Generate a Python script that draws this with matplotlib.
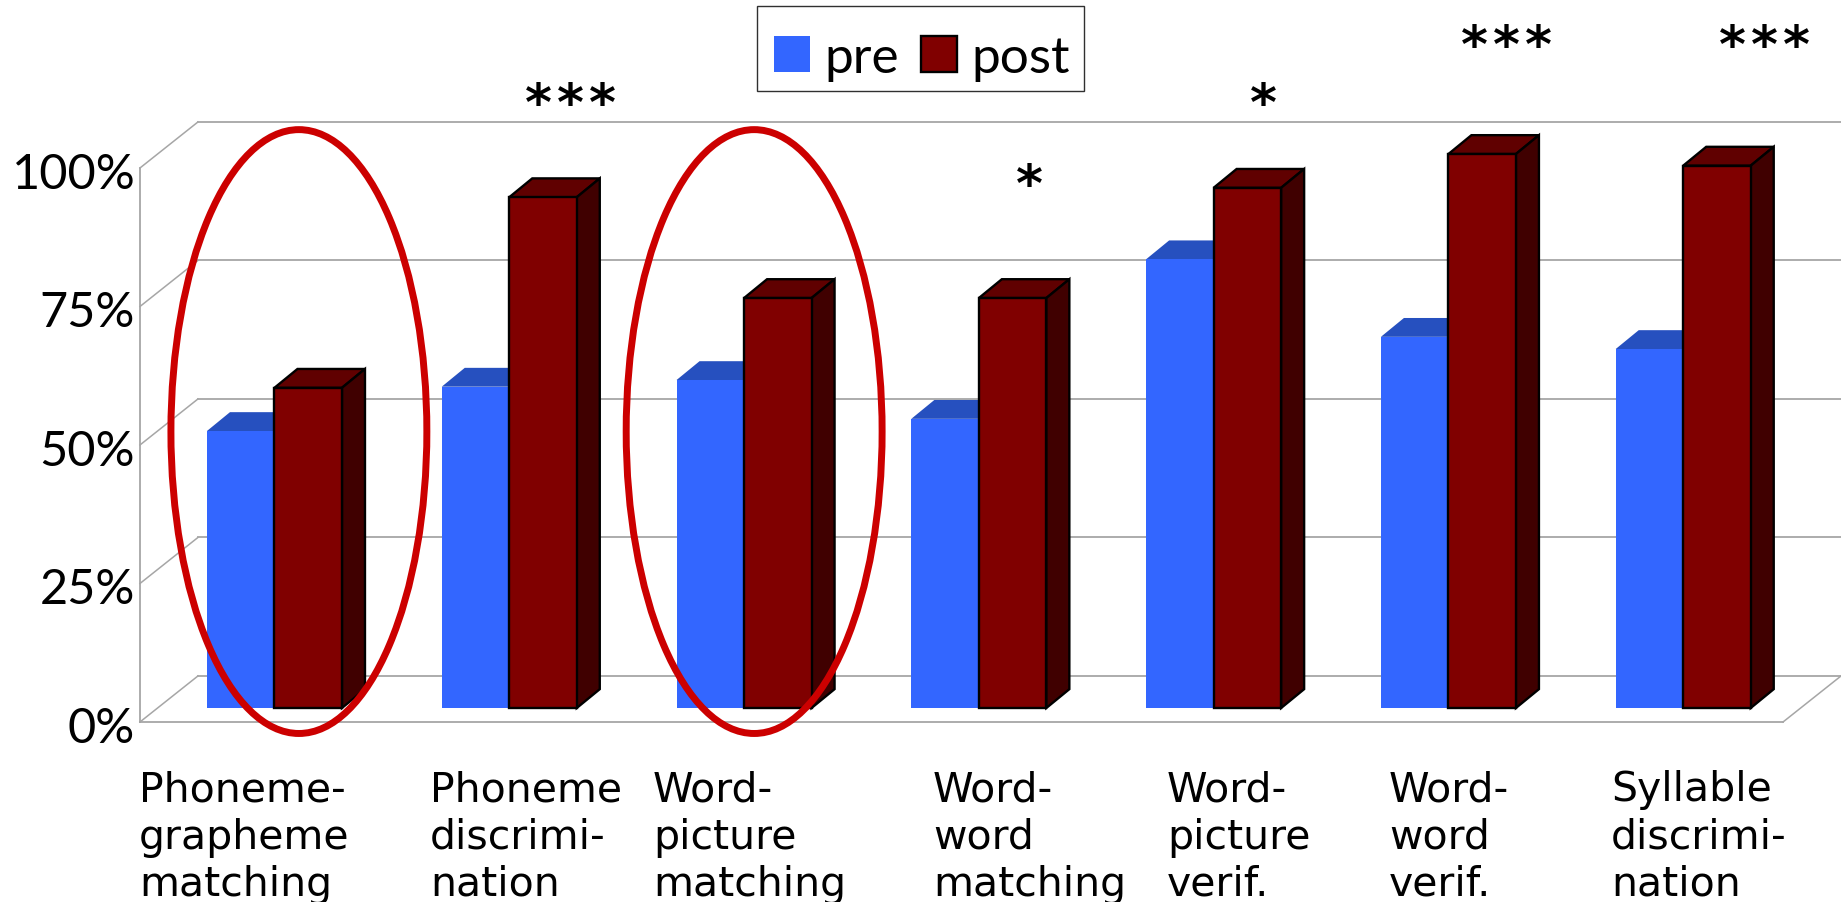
import matplotlib
matplotlib.use("Agg")
import matplotlib.pyplot as plt
from matplotlib.patches import Ellipse, Rectangle

# --- Data ---
categories = [
    "Phoneme-\ngrapheme\nmatching",
    "Phoneme\ndiscrimi-\nnation",
    "Word-\npicture\nmatching",
    "Word-\nword\nmatching",
    "Word-\npicture\nverif.",
    "Word-\nword\nverif.",
    "Syllable\ndiscrimi-\nnation",
]
pre = [50, 58, 59.2, 52.2, 81, 67, 64.8]
post = [57.8, 92.2, 74, 74, 93.9, 100, 97.9]
y_ticks = [0, 25, 50, 75, 100]
sig_marks = ["", "***", "", "*", "*", "***", "***"]
sig_heights = [0, 108.8, 0, 94.3, 108.8, 119.3, 119.3]
sig_shift = [0, 0.26, 0, 0.217, 0.21, 0.245, 0.345]
circled = [0, 2]
circle_shift = [0.104, 0.043]

# --- Config ---
BLUE, BLUE_TOP = "#3366FF", "#2650BF"
RED, RED_TOP, RED_SIDE = "#800000", "#600000", "#400000"
GRID = "#A6A6A6"
W = 0.2875        # bar width
DX, DY = 0.098, 3.4   # bar depth
WALL_DX, WALL_DY = 0.247, 8.31  # floor depth
FLOOR = -2.53
LEFT, RIGHT = -0.573, 6.425

fig = plt.figure(figsize=(18.41, 9.03), dpi=100)
ax = fig.add_axes([0, 0, 1, 1])
ax.set_xlim(-1.169, 6.672)
ax.set_ylim(-35.02, 127.98)
ax.axis("off")

# --- Walls and grid ---
for t in y_ticks:
    ax.plot([LEFT, LEFT + WALL_DX], [FLOOR + t, FLOOR + t + WALL_DY], color=GRID, lw=1.1, zorder=1)
    ax.plot([LEFT + WALL_DX, RIGHT + WALL_DX], [FLOOR + t + WALL_DY] * 2, color=GRID, lw=1.3, zorder=1)
    ax.text(LEFT - 0.02, FLOOR + t - 1.0, f"{t}%", ha="right", va="center",
            fontsize=35, family="Lato", color="black")
ax.plot([LEFT, LEFT], [FLOOR, FLOOR + 100], color=GRID, lw=1.3, zorder=1)
ax.plot([LEFT, RIGHT], [FLOOR, FLOOR], color=GRID, lw=1.3, zorder=1)
ax.plot([RIGHT, RIGHT + WALL_DX], [FLOOR, FLOOR + WALL_DY], color=GRID, lw=1.1, zorder=1)

# --- Bars ---
for i, (a, b) in enumerate(zip(pre, post)):
    x = i - W
    ax.fill([x, x + DX, x + W + DX, x + W], [a, a + DY, a + DY, a], color=BLUE_TOP, lw=0, zorder=2)
    x = i
    ax.fill([x, x + DX, x + W + DX, x + W], [b, b + DY, b + DY, b],
            facecolor=RED_TOP, edgecolor="black", lw=1.7, zorder=4)
    ax.fill([x + W, x + W + DX, x + W + DX, x + W], [0, DY, b + DY, b],
            facecolor=RED_SIDE, edgecolor="black", lw=1.7, zorder=4)

xs = range(len(categories))
ax.bar([i - W for i in xs], pre, W, align="edge", color=BLUE, label="pre", zorder=3)
ax.bar(list(xs), post, W, align="edge", color=RED, edgecolor="black", lw=1.7, label="post", zorder=5)

# --- Circled groups ---
for i, s in zip(circled, circle_shift):
    ax.add_patch(Ellipse((i + s, 49.9), 1.09, 109.0, fill=False,
                         edgecolor="#CC0000", lw=5, zorder=6))

# --- Significance marks ---
for i, (m, h, s) in enumerate(zip(sig_marks, sig_heights, sig_shift)):
    if m:
        ax.text(i + s, h, "\u200a".join(m), ha="center", va="center", fontsize=37,
                family="DejaVu Sans", fontweight="bold")

# --- Category labels ---
label_x = [-0.577, 0.662, 1.612, 2.805, 3.801, 4.746, 5.693]
for x, label in zip(label_x, categories):
    ax.text(x, -33.75, label, ha="left", va="baseline", fontsize=29.5,
            family="DejaVu Sans", linespacing=1.24, color="black")

# --- Legend ---
ax.add_patch(Rectangle((2.055, 111.4), 1.393, 15.3, facecolor="white",
                       edgecolor="#303030", lw=1.0, zorder=7))
leg = ax.legend(loc="center", bbox_to_anchor=(2.757, 117.4), bbox_transform=ax.transData,
                ncol=2, prop={"family": "Lato", "size": 37},
                handlelength=0.7, handleheight=0.7, handletextpad=0.28,
                columnspacing=0.42, borderpad=0, borderaxespad=0,
                frameon=False)
leg.set_zorder(8)

fig.savefig("out.png", dpi=100)
